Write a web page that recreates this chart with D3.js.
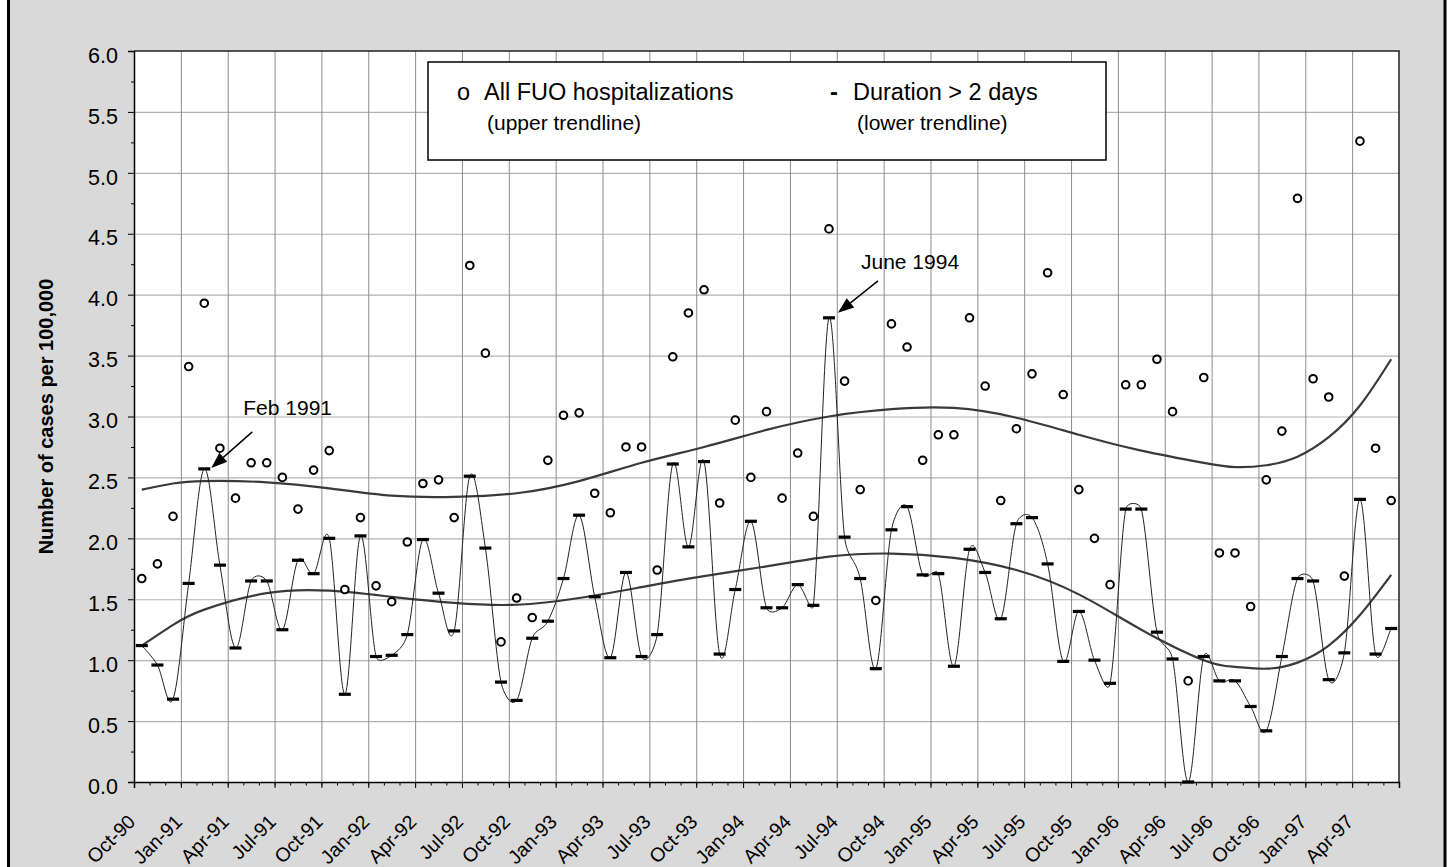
<!DOCTYPE html>
<html>
<head>
<meta charset="utf-8">
<script src="https://cdn.jsdelivr.net/npm/d3@7/dist/d3.min.js"></script>
<style>
  html, body { margin: 0; padding: 0; background: #ffffff; }
  svg { display: block; font-family: "Liberation Sans", Arial, Helvetica, sans-serif; }
</style>
</head>
<body>
<svg id="chart" width="1448" height="867"></svg>
<script>
// Monthly categories, Oct 1990 through Jun 1997
const months = d3.timeMonths(new Date(1990, 9, 1), new Date(1997, 6, 1)).map(d3.timeFormat("%b-%y"));

// Axis labels placed every third month boundary
const tickLabels = ["Oct-90","Jan-91","Apr-91","Jul-91","Oct-91","Jan-92","Apr-92","Jul-92","Oct-92",
  "Jan-93","Apr-93","Jul-93","Oct-93","Jan-94","Apr-94","Jul-94","Oct-94","Jan-95","Apr-95","Jul-95",
  "Oct-95","Jan-96","Apr-96","Jul-96","Oct-96","Jan-97","Apr-97"];

// All FUO hospitalizations, cases per 100,000 (circles)
const allFUO = [
  1.67, 1.79, 2.18, 3.41, 3.93, 2.74, 2.33, 2.62, 2.62, 2.50,
  2.24, 2.56, 2.72, 1.58, 2.17, 1.61, 1.48, 1.97, 2.45, 2.48,
  2.17, 4.24, 3.52, 1.15, 1.51, 1.35, 2.64, 3.01, 3.03, 2.37,
  2.21, 2.75, 2.75, 1.74, 3.49, 3.85, 4.04, 2.29, 2.97, 2.50,
  3.04, 2.33, 2.70, 2.18, 4.54, 3.29, 2.40, 1.49, 3.76, 3.57,
  2.64, 2.85, 2.85, 3.81, 3.25, 2.31, 2.90, 3.35, 4.18, 3.18,
  2.40, 2.00, 1.62, 3.26, 3.26, 3.47, 3.04, 0.83, 3.32, 1.88,
  1.88, 1.44, 2.48, 2.88, 4.79, 3.31, 3.16, 1.69, 5.26, 2.74,
  2.31
];

// Hospitalizations lasting more than 2 days (dashes, smoothed line)
const over2Days = [
  1.12, 0.96, 0.68, 1.63, 2.57, 1.78, 1.10, 1.65, 1.65, 1.25,
  1.82, 1.71, 2.00, 0.72, 2.02, 1.03, 1.04, 1.21, 1.99, 1.55,
  1.24, 2.51, 1.92, 0.82, 0.67, 1.18, 1.32, 1.67, 2.19, 1.52,
  1.02, 1.72, 1.03, 1.21, 2.61, 1.93, 2.63, 1.05, 1.58, 2.14,
  1.43, 1.43, 1.62, 1.45, 3.81, 2.01, 1.67, 0.93, 2.07, 2.26,
  1.70, 1.71, 0.95, 1.91, 1.72, 1.34, 2.12, 2.17, 1.79, 0.99,
  1.40, 1.00, 0.81, 2.24, 2.24, 1.23, 1.01, 0.00, 1.03, 0.83,
  0.83, 0.62, 0.42, 1.03, 1.67, 1.65, 0.84, 1.06, 2.32, 1.05,
  1.26
];

// Polynomial trendline values sampled at these month indices
const trendMonths = [0, 2, 4, 8, 12, 16, 20, 24, 28, 32, 36, 40, 44, 48, 52, 56, 60, 64, 68, 70, 72, 74, 76, 78, 80];
const upperTrend  = [2.40, 2.45, 2.47, 2.46, 2.41, 2.35, 2.34, 2.37, 2.47, 2.62, 2.75, 2.89, 3.00, 3.06, 3.07, 2.99, 2.85, 2.72, 2.62, 2.585, 2.60, 2.67, 2.83, 3.09, 3.47];
const lowerTrend  = [1.12, 1.29, 1.415, 1.55, 1.57, 1.52, 1.47, 1.455, 1.51, 1.60, 1.69, 1.77, 1.85, 1.875, 1.84, 1.74, 1.54, 1.25, 1.00, 0.945, 0.93, 0.98, 1.12, 1.37, 1.70];

const yTicks = [0, 0.5, 1, 1.5, 2, 2.5, 3, 3.5, 4, 4.5, 5, 5.5, 6];

// Callouts pointing at individual months of the >2 day series
const callouts = [
  { month: 4,  text: "Feb 1991",  tip: [7, -1],  tail: [41, -36], label: [32, -53] },
  { month: 44, text: "June 1994", tip: [9, -5],  tail: [40, -32], label: [23, -44] }
];

// ---------------------------------------------------------------
const svg = d3.select("#chart");
const plot = { left: 134, right: 1399, top: 51, bottom: 782 };

const x = d3.scaleLinear().domain([0, months.length]).range([plot.left, plot.right]);
const y = d3.scaleLinear().domain([0, 6]).range([plot.bottom, plot.top]);
const cx = i => x(i + 0.5);

// Spreadsheet-style smoothed line: cubic Bezier segments whose handles follow
// the neighbouring points (1/6 of the chord) but never exceed half the segment.
function smoothPath(pts) {
  const p = d3.path();
  p.moveTo(pts[0][0], pts[0][1]);
  for (let i = 0; i < pts.length - 1; i++) {
    const p0 = pts[Math.max(i - 1, 0)], p1 = pts[i], p2 = pts[i + 1], p3 = pts[Math.min(i + 2, pts.length - 1)];
    const half = Math.hypot(p2[0] - p1[0], p2[1] - p1[1]) / 2;
    const handle = (a, b) => {
      let vx = (b[0] - a[0]) / 6, vy = (b[1] - a[1]) / 6;
      const len = Math.hypot(vx, vy);
      if (len > half) { vx *= half / len; vy *= half / len; }
      return [vx, vy];
    };
    const h1 = handle(p0, p2), h2 = handle(p1, p3);
    p.bezierCurveTo(p1[0] + h1[0], p1[1] + h1[1], p2[0] - h2[0], p2[1] - h2[1], p2[0], p2[1]);
  }
  return p.toString();
}

// Outer frame
svg.append("rect")
  .attr("x", 8.5).attr("y", -10).attr("width", 1436.5).attr("height", 887)
  .attr("fill", "#d9d9d9").attr("stroke", "#000").attr("stroke-width", 3);

// Plot area
svg.append("rect")
  .attr("x", plot.left).attr("y", plot.top)
  .attr("width", plot.right - plot.left).attr("height", plot.bottom - plot.top)
  .attr("fill", "#fff");

// Horizontal gridlines
const hGrid = svg.append("g").attr("transform", `translate(${plot.left},0)`)
  .call(d3.axisLeft(y).tickValues(yTicks.slice(1, -1)).tickSize(-(plot.right - plot.left)).tickFormat(""));
hGrid.select(".domain").remove();
hGrid.selectAll("line").attr("stroke", "#b2b2b2").attr("stroke-width", 1.2);

// Vertical gridlines
const vGrid = svg.append("g").attr("transform", `translate(0,${plot.bottom})`)
  .call(d3.axisBottom(x).tickValues(d3.range(3, months.length, 3)).tickSize(-(plot.bottom - plot.top)).tickFormat(""));
vGrid.select(".domain").remove();
vGrid.selectAll("line").attr("stroke", "#8c8c8c").attr("stroke-width", 1);

// Plot frame, top and right
svg.append("path")
  .attr("d", `M${plot.left},${plot.top}H${plot.right}V${plot.bottom}`)
  .attr("fill", "none").attr("stroke", "#222").attr("stroke-width", 1.5);

// Y axis: minor ticks, then major ticks with labels
const yMinor = svg.append("g").attr("transform", `translate(${plot.left},0)`)
  .call(d3.axisLeft(y).tickValues(d3.range(0.25, 6, 0.5)).tickSize(3).tickFormat(""));
yMinor.select(".domain").remove();
yMinor.selectAll("line").attr("stroke", "#000");

const yAxis = svg.append("g").attr("transform", `translate(${plot.left},0)`)
  .call(d3.axisLeft(y).tickValues(yTicks).tickSize(6).tickPadding(10).tickFormat(d3.format(".1f")));
yAxis.select(".domain").attr("stroke", "#000").attr("stroke-width", 1.5);
yAxis.selectAll("line").attr("stroke", "#000");
yAxis.selectAll("text")
  .attr("font-size", 21.5).attr("fill", "#000")
  .attr("font-family", "'Liberation Sans', Arial, sans-serif")
  .attr("dy", "0.52em");

// X axis: monthly minor ticks, quarterly major ticks with rotated labels
const xMinor = svg.append("g").attr("transform", `translate(0,${plot.bottom})`)
  .call(d3.axisBottom(x).tickValues(d3.range(0, months.length + 1)).tickSize(3.5).tickFormat(""));
xMinor.select(".domain").remove();
xMinor.selectAll("line").attr("stroke", "#000");

const xAxis = svg.append("g").attr("transform", `translate(0,${plot.bottom})`)
  .call(d3.axisBottom(x).tickValues(d3.range(0, months.length + 1, 3)).tickSize(6)
    .tickFormat(i => tickLabels[i / 3] || ""));
xAxis.select(".domain").attr("stroke", "#000").attr("stroke-width", 1.5);
xAxis.selectAll("line").attr("stroke", "#000");
xAxis.selectAll("text")
  .attr("font-size", 19.5).attr("fill", "#000")
  .attr("font-family", "'Liberation Sans', Arial, sans-serif")
  .attr("text-anchor", "end")
  .attr("x", 0).attr("y", 0).attr("dy", 0)
  .attr("transform", "translate(2,41) rotate(-45)");

// Y axis title
svg.append("text")
  .attr("transform", `translate(53,${(plot.top + plot.bottom) / 2}) rotate(-90)`)
  .attr("text-anchor", "middle")
  .attr("font-size", 20).attr("font-weight", "bold").attr("fill", "#000")
  .text("Number of cases per 100,000");

// Trendlines
const trendLine = d3.line().x(d => cx(d[0])).y(d => y(d[1])).curve(d3.curveNatural);
[upperTrend, lowerTrend].forEach(vals => {
  svg.append("path")
    .datum(trendMonths.map((m, k) => [m, vals[k]]))
    .attr("d", trendLine)
    .attr("fill", "none").attr("stroke", "#3a3a3a").attr("stroke-width", 2.2);
});

// Smoothed line through the >2 day series
svg.append("path")
  .attr("d", smoothPath(over2Days.map((v, i) => [cx(i), y(v)])))
  .attr("fill", "none").attr("stroke", "#222").attr("stroke-width", 1);

// Dash markers
svg.append("g").selectAll("rect")
  .data(over2Days)
  .join("rect")
  .attr("x", (d, i) => cx(i) - 6).attr("y", d => y(d) - 1.6)
  .attr("width", 12).attr("height", 3.2)
  .attr("fill", "#000");

// Circle markers
svg.append("g").selectAll("circle")
  .data(allFUO)
  .join("circle")
  .attr("cx", (d, i) => cx(i)).attr("cy", d => y(d))
  .attr("r", 3.8)
  .attr("fill", "#fff").attr("stroke", "#000").attr("stroke-width", 2);

// Callouts with arrows
callouts.forEach(c => {
  const tx = cx(c.month) + c.tip[0];
  const ty = y(over2Days[c.month]) + c.tip[1];
  const sx = tx + c.tail[0], sy = ty + c.tail[1];
  const len = Math.hypot(sx - tx, sy - ty);
  const ux = (sx - tx) / len, uy = (sy - ty) / len;
  const hl = 16, hw = 6;
  const bx = tx + ux * hl, by = ty + uy * hl;
  svg.append("line")
    .attr("x1", sx).attr("y1", sy).attr("x2", bx).attr("y2", by)
    .attr("stroke", "#000").attr("stroke-width", 1.5);
  svg.append("path")
    .attr("d", `M${tx},${ty}L${bx - uy * hw},${by + ux * hw}L${bx + uy * hw},${by - ux * hw}Z`)
    .attr("fill", "#000");
  svg.append("text")
    .attr("x", tx + c.label[0]).attr("y", ty + c.label[1])
    .attr("font-size", 21).attr("fill", "#000")
    .text(c.text);
});

// Legend
const legend = svg.append("g");
legend.append("rect")
  .attr("x", 428).attr("y", 62).attr("width", 678).attr("height", 98)
  .attr("fill", "#fff").attr("stroke", "#000").attr("stroke-width", 1.5);
const legendItems = [
  { symbol: "o", bold: false, sx: 457, tx: 484, title: "All FUO hospitalizations", sub: "(upper trendline)", subx: 487 },
  { symbol: "-", bold: true,  sx: 830, tx: 853, title: "Duration > 2 days",        sub: "(lower trendline)", subx: 857 }
];
legendItems.forEach(it => {
  legend.append("text").attr("x", it.sx).attr("y", 100)
    .attr("font-size", 23.5).attr("font-weight", it.bold ? "bold" : "normal").text(it.symbol);
  legend.append("text").attr("x", it.tx).attr("y", 100)
    .attr("font-size", 23.5).text(it.title);
  legend.append("text").attr("x", it.subx).attr("y", 130)
    .attr("font-size", 21).text(it.sub);
});
</script>
</body>
</html>
